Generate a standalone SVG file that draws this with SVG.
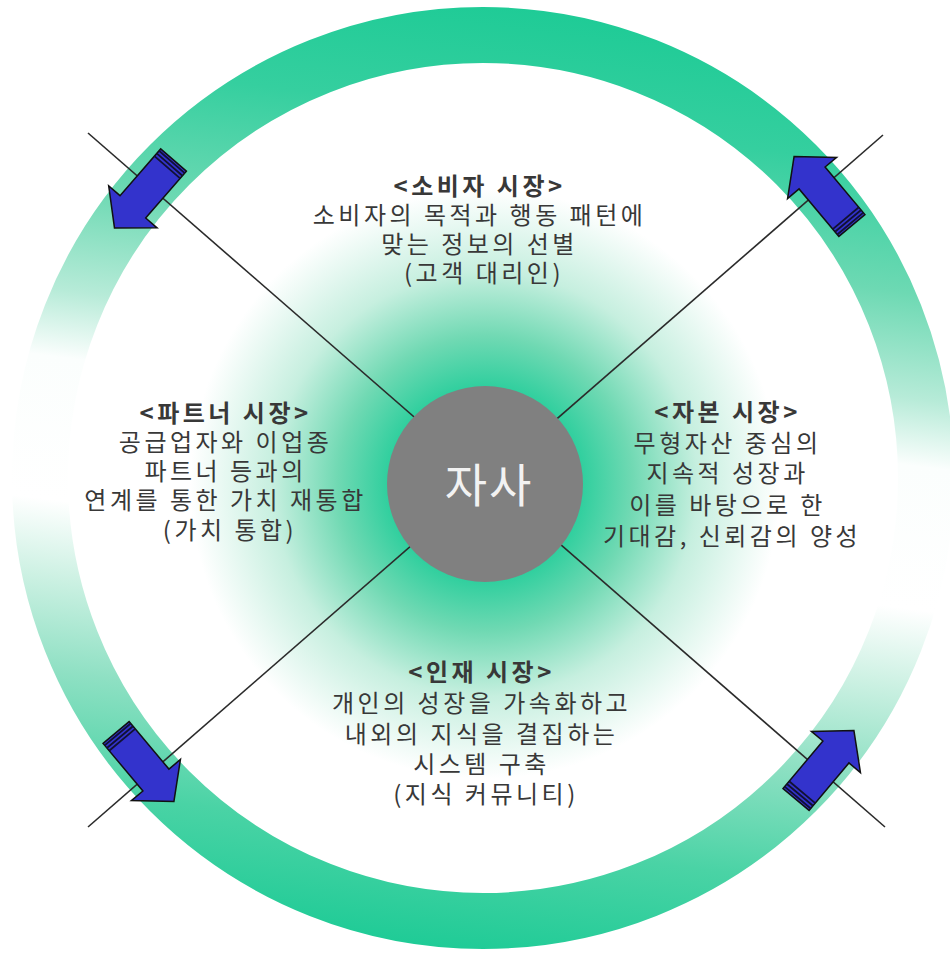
<svg xmlns="http://www.w3.org/2000/svg" width="950" height="955" viewBox="0 0 950 955">
<style>
.t { font-family: "Noto Sans CJK KR", "Noto Sans", sans-serif; font-size: 24px; fill: #383838; text-anchor: middle; letter-spacing: 3.5px; }
.h { font-weight: bold; }
.conn { stroke: #2b2b2b; stroke-width: 1.6; fill: none; }
.core { fill: #808080; }
.coreText { font-family: "Noto Sans CJK KR", "Noto Sans", sans-serif; font-size: 46px; fill: #f2f2f2; text-anchor: middle; letter-spacing: 2px; }
</style>
<defs>
  <radialGradient id="glow" gradientUnits="userSpaceOnUse" cx="485" cy="484" r="295">
    <stop offset="0" stop-color="#1fcb95"/>
    <stop offset="0.33" stop-color="#30cf9e"/>
    <stop offset="0.5" stop-color="#70d9b3"/>
    <stop offset="0.72" stop-color="#c6efdf"/>
    <stop offset="1" stop-color="#ffffff"/>
  </radialGradient>
  <linearGradient id="ringGrad" gradientUnits="userSpaceOnUse" x1="543" y1="7" x2="423" y2="949">
    <stop offset="0" stop-color="#1ecb96"/>
    <stop offset="0.12" stop-color="#35cf9f"/>
    <stop offset="0.25" stop-color="#6dd9b3"/>
    <stop offset="0.36" stop-color="#b7ebd8"/>
    <stop offset="0.43" stop-color="#fbfefd"/>
    <stop offset="0.58" stop-color="#ffffff"/>
    <stop offset="0.66" stop-color="#cdf1e3"/>
    <stop offset="0.76" stop-color="#8ee0c3"/>
    <stop offset="0.88" stop-color="#4ad3a5"/>
    <stop offset="1" stop-color="#1ecb96"/>
  </linearGradient>
  <g id="arrow">
    <path d="M-45,-17 H17 V-32 L45,0 L17,32 V17 H-45 Z" fill="#3333cc" stroke="#111111" stroke-width="1.5" stroke-linejoin="miter"/>
    <path d="M-42.5,-17 V17 M-39,-17 V17 M-35.5,-17 V17" stroke="#111133" stroke-width="1.8"/>
  </g>
</defs>

<g id="background">
  <circle cx="485" cy="484" r="295" fill="url(#glow)"/>
  <circle id="cycle-ring" cx="483" cy="478" r="443" fill="none" stroke="url(#ringGrad)" stroke-width="56"/>
</g>

<g id="connectors">
  <line class="conn" x1="88" y1="133" x2="885" y2="827"/>
  <line class="conn" x1="883" y1="135" x2="88" y2="827"/>
</g>

<g id="cycle-arrows">
  <use href="#arrow" transform="translate(144,194) rotate(131)"/>
  <use href="#arrow" transform="translate(823,191) rotate(-130)"/>
  <use href="#arrow" transform="translate(145,767) rotate(50)"/>
  <use href="#arrow" transform="translate(825,765) rotate(-50)"/>
</g>

<g id="node-company">
  <circle class="core" cx="485" cy="484" r="98"/>
  <text class="coreText" x="489" y="502">자사</text>
</g>

<g id="node-consumer">
  <text class="t">
    <tspan class="h" x="484" y="195">&lt;소비자 시장&gt;</tspan>
    <tspan x="484" y="224">소비자의 목적과 행동 패턴에</tspan>
    <tspan x="484" y="253">맞는 정보의 선별</tspan>
    <tspan x="484" y="282">(고객 대리인)</tspan>
  </text>
</g>

<g id="node-partner">
  <text class="t">
    <tspan class="h" x="230" y="422">&lt;파트너 시장&gt;</tspan>
    <tspan x="230" y="451">공급업자와 이업종</tspan>
    <tspan x="230" y="480">파트너 등과의</tspan>
    <tspan x="230" y="509">연계를 통한 가치 재통합</tspan>
    <tspan x="230" y="539">(가치 통합)</tspan>
  </text>
</g>

<g id="node-capital">
  <text class="t">
    <tspan class="h" x="732" y="421">&lt;자본 시장&gt;</tspan>
    <tspan x="732" y="452">무형자산 중심의</tspan>
    <tspan x="732" y="482">지속적 성장과</tspan>
    <tspan x="732" y="514">이를 바탕으로 한</tspan>
    <tspan x="732" y="545">기대감, 신뢰감의 양성</tspan>
  </text>
</g>

<g id="node-talent">
  <text class="t">
    <tspan class="h" x="486" y="681">&lt;인재 시장&gt;</tspan>
    <tspan x="486" y="712">개인의 성장을 가속화하고</tspan>
    <tspan x="486" y="743">내외의 지식을 결집하는</tspan>
    <tspan x="486" y="773">시스템 구축</tspan>
    <tspan x="486" y="803">(지식 커뮤니티)</tspan>
  </text>
</g>
</svg>
